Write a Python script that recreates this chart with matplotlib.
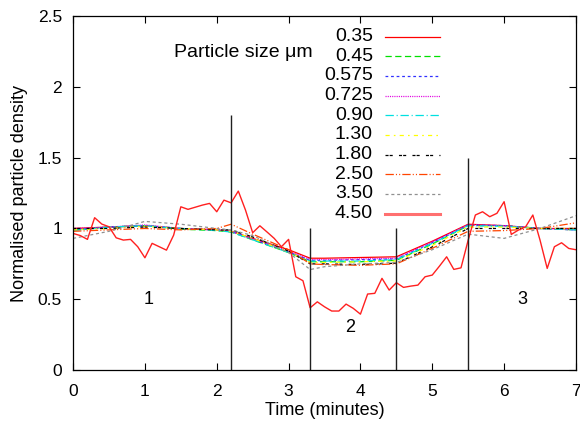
import numpy as np
import matplotlib
matplotlib.use("Agg")
import matplotlib.pyplot as plt
from matplotlib.lines import Line2D

plt.rcParams["font.family"] = ["Liberation Sans", "DejaVu Sans"]
plt.rcParams["lines.scale_dashes"] = False

# ==========================
# DATA
# ==========================

# smooth curves, sampled at these times (minutes)
t_smooth = [0, 0.5, 1.0, 1.5, 2.0, 2.2, 2.5, 3.0, 3.3, 3.5, 4.0, 4.5, 5.0, 5.5, 6.0, 6.5, 7.0]

size_035 = [1.00, 1.01, 1.02, 1.00, 0.99, 0.98, 0.93, 0.85, 0.79, 0.79, 0.795, 0.80, 0.91, 1.03, 1.02, 1.00, 1.00]
size_045 = [0.99, 1.01, 1.02, 0.995, 0.985, 0.975, 0.92, 0.83, 0.765, 0.765, 0.765, 0.775, 0.89, 1.02, 1.02, 1.00, 0.99]
size_0575 = [0.99, 1.01, 1.02, 1.00, 0.99, 0.98, 0.925, 0.835, 0.775, 0.775, 0.78, 0.785, 0.90, 1.025, 1.02, 1.00, 0.99]
size_0725 = [1.00, 1.01, 1.025, 1.00, 0.99, 0.98, 0.925, 0.84, 0.78, 0.78, 0.785, 0.79, 0.905, 1.025, 1.02, 1.00, 0.99]
size_090 = [0.985, 1.01, 1.02, 1.00, 0.985, 0.975, 0.92, 0.83, 0.77, 0.77, 0.77, 0.78, 0.895, 1.02, 1.015, 1.00, 0.99]
size_130 = [0.99, 1.00, 1.015, 1.00, 0.99, 0.98, 0.93, 0.835, 0.76, 0.76, 0.765, 0.77, 0.88, 1.01, 1.01, 1.00, 1.00]
size_180 = [1.00, 1.00, 1.01, 1.00, 0.99, 0.99, 0.94, 0.84, 0.75, 0.75, 0.745, 0.755, 0.87, 1.00, 1.00, 1.00, 1.00]
size_250 = [0.98, 0.99, 1.00, 0.99, 1.00, 1.03, 0.96, 0.85, 0.75, 0.745, 0.74, 0.75, 0.86, 0.98, 0.985, 1.00, 1.04]
size_350 = [0.93, 0.98, 1.05, 1.03, 1.00, 0.99, 0.95, 0.83, 0.71, 0.73, 0.75, 0.76, 0.85, 0.96, 0.93, 1.00, 1.09]

# noisy 4.50 um curve, every 0.1 minute
t_noisy = np.round(np.arange(0, 7.05, 0.1), 1)
size_450 = [
    0.965, 0.95, 0.923, 1.076, 1.031, 1.012, 0.934, 0.918, 0.923, 0.871,
    0.793, 0.895, 0.871, 0.847, 0.953, 1.153, 1.135, 1.15, 1.165, 1.177,
    1.118, 1.20, 1.181, 1.264, 1.13, 0.97, 1.019, 0.975, 0.93, 0.871,
    0.923, 0.659, 0.631, 0.44, 0.482, 0.447, 0.417, 0.417, 0.466, 0.436,
    0.395, 0.537, 0.542, 0.648, 0.565, 0.617, 0.584, 0.593, 0.60, 0.659,
    0.671, 0.734, 0.80, 0.711, 0.722, 0.918, 1.095, 1.118, 1.083, 1.107,
    1.189, 0.958, 0.989, 1.012, 1.095, 0.918, 0.718, 0.871, 0.899, 0.859,
    0.85,
]

size_labels = ["0.35", "0.45", "0.575", "0.725", "0.90", "1.30", "1.80", "2.50", "3.50"]
smooth_series = [size_035, size_045, size_0575, size_0725, size_090,
                 size_130, size_180, size_250, size_350]

colors = ["#ff0000", "#00e000", "#3030ff", "#e000e0", "#00e0e0",
          "#ffff00", "#000000", "#ff4500", "#909090"]
dashes = [
    None,
    (4.5, 2.5),
    (2, 2),
    (0.8, 0.8),
    (6, 2, 0.8, 2),
    (3, 3, 1.2, 3),
    (2.2, 0.8, 2.2, 4.5),
    (6, 1.5, 0.8, 1.5, 0.8, 1.5),
    (2.2, 2),
]

# phase boundaries and labels
bound_x = [2.2, 3.3, 4.5, 5.5]
bound_top = [1.8, 1.0, 1.0, 1.5]
phase_labels = ["1", "2", "3"]
phase_x = [1.05, 3.85, 6.25]
phase_y = [0.5, 0.3, 0.5]

# ==========================
# PLOT
# ==========================

fig = plt.figure(figsize=(5.8, 4.22), dpi=100)
ax = fig.add_axes([0.126, 0.123, 0.867, 0.839])

lines = []
for vals, lab, col, ds in zip(smooth_series, size_labels, colors, dashes):
    line, = ax.plot(t_smooth, vals, color=col, lw=0.9, label=lab)
    if ds is not None:
        line.set_dashes(ds)
    lines.append(line)

noisy, = ax.plot(t_noisy, size_450, color="#ff2020", lw=1.0, label="4.50")
lines.append(noisy)

ax.vlines(bound_x, 0, bound_top, color="#202020", lw=1.0)

for lab, x, y in zip(phase_labels, phase_x, phase_y):
    ax.text(x, y, lab, fontsize=13, ha="center", va="center")

ax.set_xlim(0, 7)
ax.set_ylim(0, 2.5)
ax.set_xticks(range(8))
ax.set_yticks([0, 0.5, 1, 1.5, 2, 2.5])
ax.set_yticklabels(["0", "0.5", "1", "1.5", "2", "2.5"])
ax.tick_params(direction="in", top=True, right=True, length=5, width=0.8,
               labelsize=12.5)
ax.tick_params(axis="x", pad=10)
ax.tick_params(axis="y", pad=8)
for sp in ax.spines.values():
    sp.set_linewidth(0.9)

ax.set_xlabel("Time (minutes)", fontsize=13, labelpad=2)
ax.set_ylabel("Normalised particle density", fontsize=13, labelpad=7)

# ==========================
# KEY (gnuplot style, labels right aligned)
# ==========================

key_text_x = 0.5964
key_line_x = [0.620, 0.7296]
row_top = 0.9422
row_step = 0.0556

for i, line in enumerate(lines):
    y = row_top - i * row_step
    ax.text(key_text_x, y, line.get_label(), transform=ax.transAxes,
            fontsize=14, ha="right", va="center")
    key = Line2D(key_line_x, [y, y], transform=ax.transAxes,
                 color=line.get_color(), lw=line.get_linewidth())
    if i < len(dashes) and dashes[i] is not None:
        key.set_dashes(dashes[i])
    if line is noisy:
        key.set_linewidth(2.2)
        key.set_color("#ff7070")
    ax.add_line(key)

ax.text(0.477, 0.898, "Particle size μm", transform=ax.transAxes,
        fontsize=14, ha="right", va="center")

fig.savefig("out.png", dpi=100)
